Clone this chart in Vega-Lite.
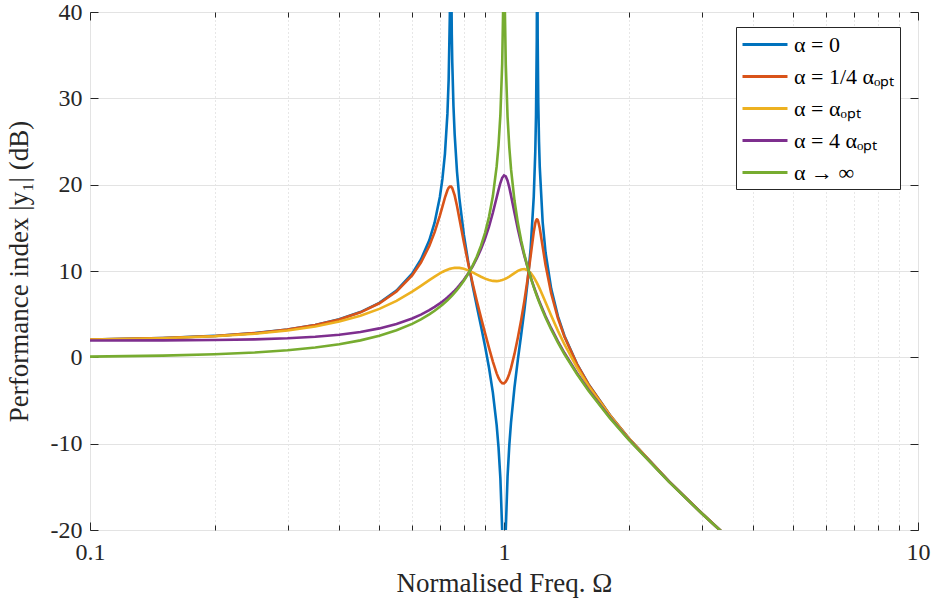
{
  "$schema": "https://vega.github.io/schema/vega-lite/v6.json",
  "width": 828,
  "height": 518,
  "autosize": {"type": "none"},
  "padding": {"left": 90, "top": 12, "right": 16, "bottom": 73},
  "background": "white",
  "config": {
    "font": "Liberation Serif",
    "view": {"stroke": "#262626", "strokeWidth": 1},
    "axis": {
      "domain": false,
      "tickColor": "#262626",
      "labelColor": "#262626",
      "titleColor": "#262626",
      "labelFont": "Liberation Serif",
      "titleFont": "Liberation Serif",
      "titleFontWeight": "normal",
      "labelFontSize": 24,
      "titleFontSize": 27
    }
  },
  "data": {
    "values": [
      {"series": "α = 0", "omega": 0.1, "db": 2.07},
      {"series": "α = 0", "omega": 0.15, "db": 2.238},
      {"series": "α = 0", "omega": 0.2, "db": 2.48},
      {"series": "α = 0", "omega": 0.25, "db": 2.803},
      {"series": "α = 0", "omega": 0.3, "db": 3.22},
      {"series": "α = 0", "omega": 0.35, "db": 3.747},
      {"series": "α = 0", "omega": 0.4, "db": 4.41},
      {"series": "α = 0", "omega": 0.45, "db": 5.245},
      {"series": "α = 0", "omega": 0.5, "db": 6.315},
      {"series": "α = 0", "omega": 0.55, "db": 7.728},
      {"series": "α = 0", "omega": 0.6, "db": 9.696},
      {"series": "α = 0", "omega": 0.63, "db": 11.325},
      {"series": "α = 0", "omega": 0.66, "db": 13.554},
      {"series": "α = 0", "omega": 0.68, "db": 15.62},
      {"series": "α = 0", "omega": 0.7, "db": 18.574},
      {"series": "α = 0", "omega": 0.71, "db": 20.668},
      {"series": "α = 0", "omega": 0.72, "db": 23.567},
      {"series": "α = 0", "omega": 0.73, "db": 28.196},
      {"series": "α = 0", "omega": 0.735, "db": 32.118},
      {"series": "α = 0", "omega": 0.74, "db": 39.73},
      {"series": "α = 0", "omega": 0.742, "db": 47.06},
      {"series": "α = 0", "omega": 0.745, "db": 46.96},
      {"series": "α = 0", "omega": 0.748, "db": 37.37},
      {"series": "α = 0", "omega": 0.75, "db": 34.135},
      {"series": "α = 0", "omega": 0.755, "db": 29.08},
      {"series": "α = 0", "omega": 0.76, "db": 25.835},
      {"series": "α = 0", "omega": 0.77, "db": 21.495},
      {"series": "α = 0", "omega": 0.78, "db": 18.48},
      {"series": "α = 0", "omega": 0.8, "db": 14.175},
      {"series": "α = 0", "omega": 0.82, "db": 10.967},
      {"series": "α = 0", "omega": 0.84, "db": 8.292},
      {"series": "α = 0", "omega": 0.86, "db": 5.889},
      {"series": "α = 0", "omega": 0.88, "db": 3.597},
      {"series": "α = 0", "omega": 0.9, "db": 1.283},
      {"series": "α = 0", "omega": 0.92, "db": -1.202},
      {"series": "α = 0", "omega": 0.94, "db": -4.092},
      {"series": "α = 0", "omega": 0.96, "db": -7.863},
      {"series": "α = 0", "omega": 0.97, "db": -10.435},
      {"series": "α = 0", "omega": 0.98, "db": -13.998},
      {"series": "α = 0", "omega": 0.99, "db": -20.026},
      {"series": "α = 0", "omega": 0.995, "db": -26.04},
      {"series": "α = 0", "omega": 1.005, "db": -25.99},
      {"series": "α = 0", "omega": 1.01, "db": -19.939},
      {"series": "α = 0", "omega": 1.02, "db": -13.821},
      {"series": "α = 0", "omega": 1.03, "db": -10.166},
      {"series": "α = 0", "omega": 1.04, "db": -7.492},
      {"series": "α = 0", "omega": 1.06, "db": -3.49},
      {"series": "α = 0", "omega": 1.08, "db": -0.303},
      {"series": "α = 0", "omega": 1.1, "db": 2.587},
      {"series": "α = 0", "omega": 1.12, "db": 5.485},
      {"series": "α = 0", "omega": 1.14, "db": 8.684},
      {"series": "α = 0", "omega": 1.16, "db": 12.65},
      {"series": "α = 0", "omega": 1.18, "db": 18.616},
      {"series": "α = 0", "omega": 1.19, "db": 23.802},
      {"series": "α = 0", "omega": 1.195, "db": 28.125},
      {"series": "α = 0", "omega": 1.2, "db": 36.745},
      {"series": "α = 0", "omega": 1.202, "db": 46.32},
      {"series": "α = 0", "omega": 1.204, "db": 46.39},
      {"series": "α = 0", "omega": 1.206, "db": 36.87},
      {"series": "α = 0", "omega": 1.21, "db": 29.588},
      {"series": "α = 0", "omega": 1.215, "db": 24.997},
      {"series": "α = 0", "omega": 1.22, "db": 22.059},
      {"series": "α = 0", "omega": 1.24, "db": 15.62},
      {"series": "α = 0", "omega": 1.26, "db": 12.138},
      {"series": "α = 0", "omega": 1.3, "db": 7.956},
      {"series": "α = 0", "omega": 1.35, "db": 4.742},
      {"series": "α = 0", "omega": 1.4, "db": 2.48},
      {"series": "α = 0", "omega": 1.5, "db": -0.749},
      {"series": "α = 0", "omega": 1.6, "db": -3.117},
      {"series": "α = 0", "omega": 1.8, "db": -6.652},
      {"series": "α = 0", "omega": 2.0, "db": -9.348},
      {"series": "α = 0", "omega": 2.5, "db": -14.34},
      {"series": "α = 0", "omega": 3.0, "db": -18.034},
      {"series": "α = 0", "omega": 3.5, "db": -21.009},

      {"series": "α = 1/4 αₒₚₜ", "omega": 0.1, "db": 2.069},
      {"series": "α = 1/4 αₒₚₜ", "omega": 0.15, "db": 2.236},
      {"series": "α = 1/4 αₒₚₜ", "omega": 0.2, "db": 2.477},
      {"series": "α = 1/4 αₒₚₜ", "omega": 0.25, "db": 2.799},
      {"series": "α = 1/4 αₒₚₜ", "omega": 0.3, "db": 3.213},
      {"series": "α = 1/4 αₒₚₜ", "omega": 0.35, "db": 3.736},
      {"series": "α = 1/4 αₒₚₜ", "omega": 0.4, "db": 4.391},
      {"series": "α = 1/4 αₒₚₜ", "omega": 0.45, "db": 5.214},
      {"series": "α = 1/4 αₒₚₜ", "omega": 0.5, "db": 6.261},
      {"series": "α = 1/4 αₒₚₜ", "omega": 0.55, "db": 7.629},
      {"series": "α = 1/4 αₒₚₜ", "omega": 0.6, "db": 9.489},
      {"series": "α = 1/4 αₒₚₜ", "omega": 0.63, "db": 10.975},
      {"series": "α = 1/4 αₒₚₜ", "omega": 0.66, "db": 12.889},
      {"series": "α = 1/4 αₒₚₜ", "omega": 0.68, "db": 14.495},
      {"series": "α = 1/4 αₒₚₜ", "omega": 0.7, "db": 16.416},
      {"series": "α = 1/4 αₒₚₜ", "omega": 0.71, "db": 17.466},
      {"series": "α = 1/4 αₒₚₜ", "omega": 0.72, "db": 18.497},
      {"series": "α = 1/4 αₒₚₜ", "omega": 0.73, "db": 19.353},
      {"series": "α = 1/4 αₒₚₜ", "omega": 0.735, "db": 19.64},
      {"series": "α = 1/4 αₒₚₜ", "omega": 0.74, "db": 19.789},
      {"series": "α = 1/4 αₒₚₜ", "omega": 0.745, "db": 19.775},
      {"series": "α = 1/4 αₒₚₜ", "omega": 0.75, "db": 19.59},
      {"series": "α = 1/4 αₒₚₜ", "omega": 0.76, "db": 18.761},
      {"series": "α = 1/4 αₒₚₜ", "omega": 0.77, "db": 17.525},
      {"series": "α = 1/4 αₒₚₜ", "omega": 0.78, "db": 16.122},
      {"series": "α = 1/4 αₒₚₜ", "omega": 0.8, "db": 13.33},
      {"series": "α = 1/4 αₒₚₜ", "omega": 0.82, "db": 10.805},
      {"series": "α = 1/4 αₒₚₜ", "omega": 0.84, "db": 8.552},
      {"series": "α = 1/4 αₒₚₜ", "omega": 0.86, "db": 6.503},
      {"series": "α = 1/4 αₒₚₜ", "omega": 0.88, "db": 4.599},
      {"series": "α = 1/4 αₒₚₜ", "omega": 0.9, "db": 2.8},
      {"series": "α = 1/4 αₒₚₜ", "omega": 0.92, "db": 1.091},
      {"series": "α = 1/4 αₒₚₜ", "omega": 0.94, "db": -0.497},
      {"series": "α = 1/4 αₒₚₜ", "omega": 0.96, "db": -1.857},
      {"series": "α = 1/4 αₒₚₜ", "omega": 0.97, "db": -2.39},
      {"series": "α = 1/4 αₒₚₜ", "omega": 0.98, "db": -2.78},
      {"series": "α = 1/4 αₒₚₜ", "omega": 0.99, "db": -2.995},
      {"series": "α = 1/4 αₒₚₜ", "omega": 1.0, "db": -3.01},
      {"series": "α = 1/4 αₒₚₜ", "omega": 1.01, "db": -2.822},
      {"series": "α = 1/4 αₒₚₜ", "omega": 1.02, "db": -2.443},
      {"series": "α = 1/4 αₒₚₜ", "omega": 1.03, "db": -1.9},
      {"series": "α = 1/4 αₒₚₜ", "omega": 1.04, "db": -1.227},
      {"series": "α = 1/4 αₒₚₜ", "omega": 1.06, "db": 0.395},
      {"series": "α = 1/4 αₒₚₜ", "omega": 1.08, "db": 2.257},
      {"series": "α = 1/4 αₒₚₜ", "omega": 1.1, "db": 4.301},
      {"series": "α = 1/4 αₒₚₜ", "omega": 1.12, "db": 6.539},
      {"series": "α = 1/4 αₒₚₜ", "omega": 1.14, "db": 9.026},
      {"series": "α = 1/4 αₒₚₜ", "omega": 1.16, "db": 11.784},
      {"series": "α = 1/4 αₒₚₜ", "omega": 1.18, "db": 14.531},
      {"series": "α = 1/4 αₒₚₜ", "omega": 1.19, "db": 15.541},
      {"series": "α = 1/4 αₒₚₜ", "omega": 1.195, "db": 15.843},
      {"series": "α = 1/4 αₒₚₜ", "omega": 1.2, "db": 15.976},
      {"series": "α = 1/4 αₒₚₜ", "omega": 1.203, "db": 15.97},
      {"series": "α = 1/4 αₒₚₜ", "omega": 1.206, "db": 15.905},
      {"series": "α = 1/4 αₒₚₜ", "omega": 1.21, "db": 15.727},
      {"series": "α = 1/4 αₒₚₜ", "omega": 1.22, "db": 14.949},
      {"series": "α = 1/4 αₒₚₜ", "omega": 1.24, "db": 12.793},
      {"series": "α = 1/4 αₒₚₜ", "omega": 1.26, "db": 10.703},
      {"series": "α = 1/4 αₒₚₜ", "omega": 1.3, "db": 7.422},
      {"series": "α = 1/4 αₒₚₜ", "omega": 1.35, "db": 4.521},
      {"series": "α = 1/4 αₒₚₜ", "omega": 1.4, "db": 2.369},
      {"series": "α = 1/4 αₒₚₜ", "omega": 1.5, "db": -0.787},
      {"series": "α = 1/4 αₒₚₜ", "omega": 1.6, "db": -3.134},
      {"series": "α = 1/4 αₒₚₜ", "omega": 1.8, "db": -6.656},
      {"series": "α = 1/4 αₒₚₜ", "omega": 2.0, "db": -9.349},
      {"series": "α = 1/4 αₒₚₜ", "omega": 2.5, "db": -14.34},
      {"series": "α = 1/4 αₒₚₜ", "omega": 3.0, "db": -18.035},
      {"series": "α = 1/4 αₒₚₜ", "omega": 3.5, "db": -21.01},

      {"series": "α = αₒₚₜ", "omega": 0.1, "db": 2.061},
      {"series": "α = αₒₚₜ", "omega": 0.15, "db": 2.218},
      {"series": "α = αₒₚₜ", "omega": 0.2, "db": 2.442},
      {"series": "α = αₒₚₜ", "omega": 0.25, "db": 2.738},
      {"series": "α = αₒₚₜ", "omega": 0.3, "db": 3.114},
      {"series": "α = αₒₚₜ", "omega": 0.35, "db": 3.577},
      {"series": "α = αₒₚₜ", "omega": 0.4, "db": 4.14},
      {"series": "α = αₒₚₜ", "omega": 0.45, "db": 4.814},
      {"series": "α = αₒₚₜ", "omega": 0.5, "db": 5.614},
      {"series": "α = αₒₚₜ", "omega": 0.55, "db": 6.547},
      {"series": "α = αₒₚₜ", "omega": 0.6, "db": 7.604},
      {"series": "α = αₒₚₜ", "omega": 0.63, "db": 8.275},
      {"series": "α = αₒₚₜ", "omega": 0.66, "db": 8.94},
      {"series": "α = αₒₚₜ", "omega": 0.68, "db": 9.356},
      {"series": "α = αₒₚₜ", "omega": 0.7, "db": 9.727},
      {"series": "α = αₒₚₜ", "omega": 0.71, "db": 9.889},
      {"series": "α = αₒₚₜ", "omega": 0.72, "db": 10.031},
      {"series": "α = αₒₚₜ", "omega": 0.73, "db": 10.152},
      {"series": "α = αₒₚₜ", "omega": 0.735, "db": 10.203},
      {"series": "α = αₒₚₜ", "omega": 0.74, "db": 10.247},
      {"series": "α = αₒₚₜ", "omega": 0.75, "db": 10.317},
      {"series": "α = αₒₚₜ", "omega": 0.76, "db": 10.359},
      {"series": "α = αₒₚₜ", "omega": 0.77, "db": 10.373},
      {"series": "α = αₒₚₜ", "omega": 0.78, "db": 10.36},
      {"series": "α = αₒₚₜ", "omega": 0.8, "db": 10.26},
      {"series": "α = αₒₚₜ", "omega": 0.82, "db": 10.077},
      {"series": "α = αₒₚₜ", "omega": 0.84, "db": 9.841},
      {"series": "α = αₒₚₜ", "omega": 0.86, "db": 9.582},
      {"series": "α = αₒₚₜ", "omega": 0.88, "db": 9.331},
      {"series": "α = αₒₚₜ", "omega": 0.9, "db": 9.113},
      {"series": "α = αₒₚₜ", "omega": 0.92, "db": 8.948},
      {"series": "α = αₒₚₜ", "omega": 0.94, "db": 8.852},
      {"series": "α = αₒₚₜ", "omega": 0.96, "db": 8.833},
      {"series": "α = αₒₚₜ", "omega": 0.97, "db": 8.853},
      {"series": "α = αₒₚₜ", "omega": 0.98, "db": 8.893},
      {"series": "α = αₒₚₜ", "omega": 0.99, "db": 8.953},
      {"series": "α = αₒₚₜ", "omega": 1.0, "db": 9.031},
      {"series": "α = αₒₚₜ", "omega": 1.01, "db": 9.126},
      {"series": "α = αₒₚₜ", "omega": 1.02, "db": 9.236},
      {"series": "α = αₒₚₜ", "omega": 1.03, "db": 9.358},
      {"series": "α = αₒₚₜ", "omega": 1.04, "db": 9.489},
      {"series": "α = αₒₚₜ", "omega": 1.06, "db": 9.76},
      {"series": "α = αₒₚₜ", "omega": 1.08, "db": 10.007},
      {"series": "α = αₒₚₜ", "omega": 1.1, "db": 10.18},
      {"series": "α = αₒₚₜ", "omega": 1.12, "db": 10.223},
      {"series": "α = αₒₚₜ", "omega": 1.14, "db": 10.094},
      {"series": "α = αₒₚₜ", "omega": 1.16, "db": 9.776},
      {"series": "α = αₒₚₜ", "omega": 1.18, "db": 9.283},
      {"series": "α = αₒₚₜ", "omega": 1.19, "db": 8.982},
      {"series": "α = αₒₚₜ", "omega": 1.2, "db": 8.652},
      {"series": "α = αₒₚₜ", "omega": 1.21, "db": 8.3},
      {"series": "α = αₒₚₜ", "omega": 1.22, "db": 7.931},
      {"series": "α = αₒₚₜ", "omega": 1.24, "db": 7.162},
      {"series": "α = αₒₚₜ", "omega": 1.26, "db": 6.377},
      {"series": "α = αₒₚₜ", "omega": 1.3, "db": 4.839},
      {"series": "α = αₒₚₜ", "omega": 1.35, "db": 3.068},
      {"series": "α = αₒₚₜ", "omega": 1.4, "db": 1.491},
      {"series": "α = αₒₚₜ", "omega": 1.5, "db": -1.16},
      {"series": "α = αₒₚₜ", "omega": 1.6, "db": -3.318},
      {"series": "α = αₒₚₜ", "omega": 1.8, "db": -6.714},
      {"series": "α = αₒₚₜ", "omega": 2.0, "db": -9.372},
      {"series": "α = αₒₚₜ", "omega": 2.5, "db": -14.344},
      {"series": "α = αₒₚₜ", "omega": 3.0, "db": -18.036},
      {"series": "α = αₒₚₜ", "omega": 3.5, "db": -21.01},

      {"series": "α = 4 αₒₚₜ", "omega": 0.1, "db": 1.947},
      {"series": "α = 4 αₒₚₜ", "omega": 0.15, "db": 1.966},
      {"series": "α = 4 αₒₚₜ", "omega": 0.2, "db": 2.008},
      {"series": "α = 4 αₒₚₜ", "omega": 0.25, "db": 2.083},
      {"series": "α = 4 αₒₚₜ", "omega": 0.3, "db": 2.203},
      {"series": "α = 4 αₒₚₜ", "omega": 0.35, "db": 2.379},
      {"series": "α = 4 αₒₚₜ", "omega": 0.4, "db": 2.622},
      {"series": "α = 4 αₒₚₜ", "omega": 0.45, "db": 2.943},
      {"series": "α = 4 αₒₚₜ", "omega": 0.5, "db": 3.353},
      {"series": "α = 4 αₒₚₜ", "omega": 0.55, "db": 3.866},
      {"series": "α = 4 αₒₚₜ", "omega": 0.6, "db": 4.502},
      {"series": "α = 4 αₒₚₜ", "omega": 0.63, "db": 4.953},
      {"series": "α = 4 αₒₚₜ", "omega": 0.66, "db": 5.463},
      {"series": "α = 4 αₒₚₜ", "omega": 0.68, "db": 5.841},
      {"series": "α = 4 αₒₚₜ", "omega": 0.7, "db": 6.253},
      {"series": "α = 4 αₒₚₜ", "omega": 0.71, "db": 6.473},
      {"series": "α = 4 αₒₚₜ", "omega": 0.72, "db": 6.703},
      {"series": "α = 4 αₒₚₜ", "omega": 0.73, "db": 6.944},
      {"series": "α = 4 αₒₚₜ", "omega": 0.735, "db": 7.068},
      {"series": "α = 4 αₒₚₜ", "omega": 0.74, "db": 7.195},
      {"series": "α = 4 αₒₚₜ", "omega": 0.75, "db": 7.459},
      {"series": "α = 4 αₒₚₜ", "omega": 0.76, "db": 7.736},
      {"series": "α = 4 αₒₚₜ", "omega": 0.77, "db": 8.027},
      {"series": "α = 4 αₒₚₜ", "omega": 0.78, "db": 8.332},
      {"series": "α = 4 αₒₚₜ", "omega": 0.8, "db": 8.992},
      {"series": "α = 4 αₒₚₜ", "omega": 0.82, "db": 9.727},
      {"series": "α = 4 αₒₚₜ", "omega": 0.84, "db": 10.55},
      {"series": "α = 4 αₒₚₜ", "omega": 0.86, "db": 11.478},
      {"series": "α = 4 αₒₚₜ", "omega": 0.88, "db": 12.535},
      {"series": "α = 4 αₒₚₜ", "omega": 0.9, "db": 13.746},
      {"series": "α = 4 αₒₚₜ", "omega": 0.92, "db": 15.142},
      {"series": "α = 4 αₒₚₜ", "omega": 0.94, "db": 16.743},
      {"series": "α = 4 αₒₚₜ", "omega": 0.96, "db": 18.51},
      {"series": "α = 4 αₒₚₜ", "omega": 0.97, "db": 19.393},
      {"series": "α = 4 αₒₚₜ", "omega": 0.98, "db": 20.19},
      {"series": "α = 4 αₒₚₜ", "omega": 0.99, "db": 20.791},
      {"series": "α = 4 αₒₚₜ", "omega": 1.0, "db": 21.072},
      {"series": "α = 4 αₒₚₜ", "omega": 1.01, "db": 20.952},
      {"series": "α = 4 αₒₚₜ", "omega": 1.02, "db": 20.45},
      {"series": "α = 4 αₒₚₜ", "omega": 1.03, "db": 19.668},
      {"series": "α = 4 αₒₚₜ", "omega": 1.04, "db": 18.731},
      {"series": "α = 4 αₒₚₜ", "omega": 1.06, "db": 16.747},
      {"series": "α = 4 αₒₚₜ", "omega": 1.08, "db": 14.88},
      {"series": "α = 4 αₒₚₜ", "omega": 1.1, "db": 13.216},
      {"series": "α = 4 αₒₚₜ", "omega": 1.12, "db": 11.746},
      {"series": "α = 4 αₒₚₜ", "omega": 1.14, "db": 10.44},
      {"series": "α = 4 αₒₚₜ", "omega": 1.16, "db": 9.269},
      {"series": "α = 4 αₒₚₜ", "omega": 1.18, "db": 8.21},
      {"series": "α = 4 αₒₚₜ", "omega": 1.19, "db": 7.716},
      {"series": "α = 4 αₒₚₜ", "omega": 1.2, "db": 7.244},
      {"series": "α = 4 αₒₚₜ", "omega": 1.21, "db": 6.79},
      {"series": "α = 4 αₒₚₜ", "omega": 1.22, "db": 6.355},
      {"series": "α = 4 αₒₚₜ", "omega": 1.24, "db": 5.532},
      {"series": "α = 4 αₒₚₜ", "omega": 1.26, "db": 4.767},
      {"series": "α = 4 αₒₚₜ", "omega": 1.3, "db": 3.376},
      {"series": "α = 4 αₒₚₜ", "omega": 1.35, "db": 1.848},
      {"series": "α = 4 αₒₚₜ", "omega": 1.4, "db": 0.498},
      {"series": "α = 4 αₒₚₜ", "omega": 1.5, "db": -1.812},
      {"series": "α = 4 αₒₚₜ", "omega": 1.6, "db": -3.754},
      {"series": "α = 4 αₒₚₜ", "omega": 1.8, "db": -6.926},
      {"series": "α = 4 αₒₚₜ", "omega": 2.0, "db": -9.483},
      {"series": "α = 4 αₒₚₜ", "omega": 2.5, "db": -14.374},
      {"series": "α = 4 αₒₚₜ", "omega": 3.0, "db": -18.046},
      {"series": "α = 4 αₒₚₜ", "omega": 3.5, "db": -21.014},

      {"series": "α → ∞", "omega": 0.1, "db": 0.087},
      {"series": "α → ∞", "omega": 0.15, "db": 0.198},
      {"series": "α → ∞", "omega": 0.2, "db": 0.355},
      {"series": "α → ∞", "omega": 0.25, "db": 0.561},
      {"series": "α → ∞", "omega": 0.3, "db": 0.819},
      {"series": "α → ∞", "omega": 0.35, "db": 1.135},
      {"series": "α → ∞", "omega": 0.4, "db": 1.515},
      {"series": "α → ∞", "omega": 0.45, "db": 1.966},
      {"series": "α → ∞", "omega": 0.5, "db": 2.499},
      {"series": "α → ∞", "omega": 0.55, "db": 3.129},
      {"series": "α → ∞", "omega": 0.6, "db": 3.876},
      {"series": "α → ∞", "omega": 0.63, "db": 4.392},
      {"series": "α → ∞", "omega": 0.66, "db": 4.968},
      {"series": "α → ∞", "omega": 0.68, "db": 5.391},
      {"series": "α → ∞", "omega": 0.7, "db": 5.849},
      {"series": "α → ∞", "omega": 0.71, "db": 6.092},
      {"series": "α → ∞", "omega": 0.72, "db": 6.346},
      {"series": "α → ∞", "omega": 0.73, "db": 6.612},
      {"series": "α → ∞", "omega": 0.735, "db": 6.749},
      {"series": "α → ∞", "omega": 0.74, "db": 6.89},
      {"series": "α → ∞", "omega": 0.75, "db": 7.181},
      {"series": "α → ∞", "omega": 0.76, "db": 7.485},
      {"series": "α → ∞", "omega": 0.77, "db": 7.806},
      {"series": "α → ∞", "omega": 0.78, "db": 8.143},
      {"series": "α → ∞", "omega": 0.8, "db": 8.874},
      {"series": "α → ∞", "omega": 0.82, "db": 9.693},
      {"series": "α → ∞", "omega": 0.84, "db": 10.621},
      {"series": "α → ∞", "omega": 0.86, "db": 11.687},
      {"series": "α → ∞", "omega": 0.88, "db": 12.933},
      {"series": "α → ∞", "omega": 0.9, "db": 14.425},
      {"series": "α → ∞", "omega": 0.92, "db": 16.272},
      {"series": "α → ∞", "omega": 0.94, "db": 18.681},
      {"series": "α → ∞", "omega": 0.96, "db": 22.114},
      {"series": "α → ∞", "omega": 0.97, "db": 24.568},
      {"series": "α → ∞", "omega": 0.98, "db": 28.046},
      {"series": "α → ∞", "omega": 0.99, "db": 34.023},
      {"series": "α → ∞", "omega": 0.995, "db": 40.02},
      {"series": "α → ∞", "omega": 0.997, "db": 44.45},
      {"series": "α → ∞", "omega": 1.003, "db": 44.42},
      {"series": "α → ∞", "omega": 1.005, "db": 39.98},
      {"series": "α → ∞", "omega": 1.01, "db": 33.936},
      {"series": "α → ∞", "omega": 1.02, "db": 27.872},
      {"series": "α → ∞", "omega": 1.03, "db": 24.308},
      {"series": "α → ∞", "omega": 1.04, "db": 21.766},
      {"series": "α → ∞", "omega": 1.06, "db": 18.16},
      {"series": "α → ∞", "omega": 1.08, "db": 15.577},
      {"series": "α → ∞", "omega": 1.1, "db": 13.556},
      {"series": "α → ∞", "omega": 1.12, "db": 11.89},
      {"series": "α → ∞", "omega": 1.14, "db": 10.469},
      {"series": "α → ∞", "omega": 1.16, "db": 9.228},
      {"series": "α → ∞", "omega": 1.18, "db": 8.125},
      {"series": "α → ∞", "omega": 1.19, "db": 7.616},
      {"series": "α → ∞", "omega": 1.2, "db": 7.131},
      {"series": "α → ∞", "omega": 1.21, "db": 6.668},
      {"series": "α → ∞", "omega": 1.22, "db": 6.224},
      {"series": "α → ∞", "omega": 1.24, "db": 5.391},
      {"series": "α → ∞", "omega": 1.26, "db": 4.618},
      {"series": "α → ∞", "omega": 1.3, "db": 3.223},
      {"series": "α → ∞", "omega": 1.35, "db": 1.697},
      {"series": "α → ∞", "omega": 1.4, "db": 0.355},
      {"series": "α → ∞", "omega": 1.5, "db": -1.938},
      {"series": "α → ∞", "omega": 1.6, "db": -3.863},
      {"series": "α → ∞", "omega": 1.8, "db": -7.005},
      {"series": "α → ∞", "omega": 2.0, "db": -9.542},
      {"series": "α → ∞", "omega": 2.5, "db": -14.403},
      {"series": "α → ∞", "omega": 3.0, "db": -18.062},
      {"series": "α → ∞", "omega": 3.5, "db": -21.023}
    ]
  },
  "layer": [
    {
      "mark": {"type": "line", "strokeWidth": 2.6, "clip": true},
      "encoding": {
        "x": {
          "field": "omega",
          "type": "quantitative",
          "scale": {"type": "log", "domain": [0.1, 10], "nice": false},
          "axis": {
            "orient": "bottom",
            "values": [0.1, 0.2, 0.3, 0.4, 0.5, 0.6, 0.7, 0.8, 0.9, 1, 2, 3, 4, 5, 6, 7, 8, 9, 10],
            "labelExpr": "datum.value == 0.1 ? '0.1' : datum.value == 1 ? '1' : datum.value == 10 ? '10' : ''",
            "labelFlush": false,
            "labelOverlap": false,
            "grid": true,
            "gridColor": {"condition": {"test": "datum.value == 0.1 || datum.value == 1 || datum.value == 10", "value": "#e3e3e3"}, "value": "#cfcfcf"},
            "gridDash": {"condition": {"test": "datum.value == 0.1 || datum.value == 1 || datum.value == 10", "value": []}, "value": [1, 3]},
            "tickSize": {"condition": {"test": "datum.value == 0.1 || datum.value == 1 || datum.value == 10", "value": -8}, "value": -5},
            "labelPadding": 18,
            "title": "Normalised Freq. Ω",
            "titlePadding": 3
          }
        },
        "y": {
          "field": "db",
          "type": "quantitative",
          "scale": {"domain": [-20, 40], "nice": false},
          "axis": {
            "orient": "left",
            "values": [-20, -10, 0, 10, 20, 30, 40],
            "labelExpr": "datum.value < 0 ? '-' + (-datum.value) : '' + datum.value",
            "grid": true,
            "gridColor": "#e3e3e3",
            "tickSize": -8,
            "labelPadding": 16,
            "title": "Performance index |y₁| (dB)",
            "titlePadding": 17
          }
        },
        "color": {
          "field": "series",
          "type": "nominal",
          "scale": {
            "domain": ["α = 0", "α = 1/4 αₒₚₜ", "α = αₒₚₜ", "α = 4 αₒₚₜ", "α → ∞"],
            "range": ["#0072BD", "#D95319", "#EDB120", "#7E2F8E", "#77AC30"]
          },
          "legend": {
            "title": null,
            "orient": "none",
            "legendX": 646,
            "legendY": 15,
            "symbolType": "M-1,0H3.09",
            "symbolSize": 484,
            "symbolStrokeWidth": 3,
            "labelFont": "Liberation Serif",
            "labelFontSize": 22,
            "labelColor": "#000000",
            "labelOffset": 28,
            "rowPadding": 8,
            "padding": 5,
            "strokeColor": "#262626",
            "fillColor": "white",
            "cornerRadius": 0
          }
        }
      }
    },
    {
      "mark": {"type": "point", "opacity": 0, "clip": true},
      "encoding": {
        "x": {
          "field": "omega",
          "type": "quantitative",
          "scale": {"type": "log", "domain": [0.1, 10], "nice": false},
          "axis": {
            "orient": "top",
            "values": [0.1, 0.2, 0.3, 0.4, 0.5, 0.6, 0.7, 0.8, 0.9, 1, 2, 3, 4, 5, 6, 7, 8, 9, 10],
            "labels": false,
            "grid": false,
            "tickSize": {"condition": {"test": "datum.value == 0.1 || datum.value == 1 || datum.value == 10", "value": -8}, "value": -5},
            "title": null
          }
        },
        "y": {
          "field": "db",
          "type": "quantitative",
          "scale": {"domain": [-20, 40], "nice": false},
          "axis": {
            "orient": "right",
            "values": [-20, -10, 0, 10, 20, 30, 40],
            "labels": false,
            "grid": false,
            "tickSize": -8,
            "title": null
          }
        }
      }
    }
  ],
  "resolve": {"axis": {"x": "independent", "y": "independent"}}
}
